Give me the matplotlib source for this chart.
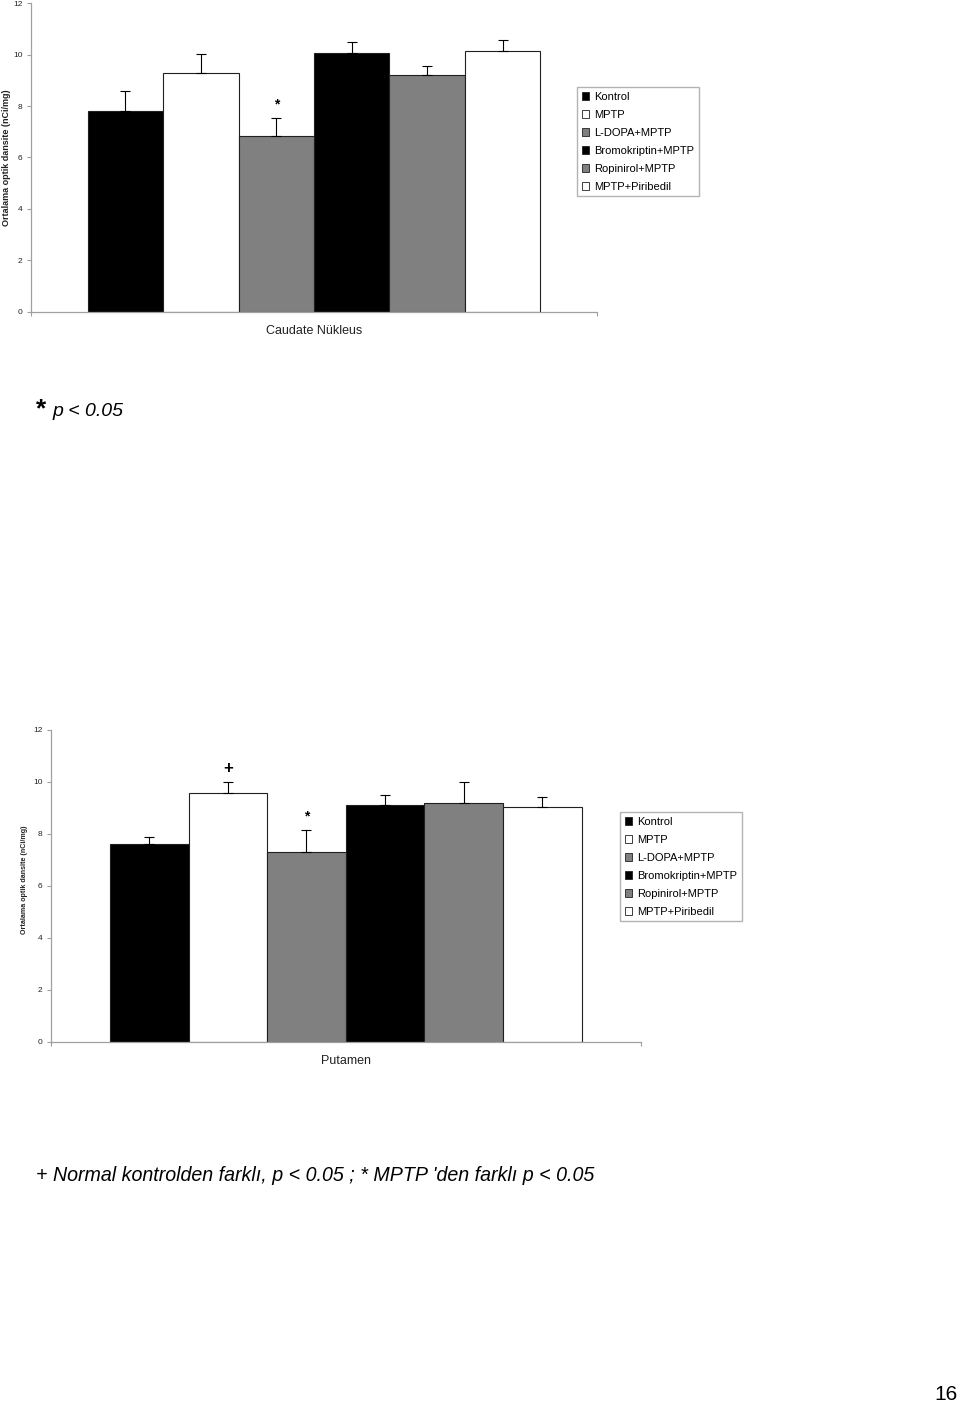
import matplotlib.pyplot as plt
from matplotlib.patches import Patch

plt.rcParams['font.family'] = ['Liberation Sans', 'DejaVu Sans']

groups = ['Kontrol', 'MPTP', 'L-DOPA+MPTP', 'Bromokriptin+MPTP', 'Ropinirol+MPTP', 'MPTP+Piribedil']
bar_colors = ['black', 'white', '#808080', 'black', '#808080', 'white']

caudate = [7.80, 9.29, 6.82, 10.08, 9.22, 10.16]
caudate_err = [0.78, 0.74, 0.70, 0.41, 0.35, 0.41]
caudate_marks = ['', '', '*', '', '', '']

putamen = [7.61, 9.59, 7.32, 9.11, 9.18, 9.02]
putamen_err = [0.26, 0.40, 0.82, 0.40, 0.81, 0.39]
putamen_marks = ['', '+', '*', '', '', '']

yticks = [0, 2, 4, 6, 8, 10, 12]
ylabel = 'Ortalama optik dansite (nCi/mg)'

W, H = 960, 1406
fig = plt.figure(figsize=(W / 100, H / 100), dpi=100)


def px_axes(left, right, top, bottom):
    return fig.add_axes([left / W, 1 - bottom / H, (right - left) / W, (bottom - top) / H])


def bar_chart(ax, vals, errs, marks, xlabel, mark_sizes):
    x = list(range(len(vals)))
    ax.bar(x, vals, width=1.0, color=bar_colors, edgecolor='#202020', linewidth=0.8, zorder=2)
    ax.errorbar(x, vals, yerr=[[0] * len(errs), errs], fmt='none', ecolor='black',
                elinewidth=0.8, capsize=3.5, capthick=0.8, zorder=3)
    for i in x:
        if marks[i]:
            ax.text(i, vals[i] + errs[i] + 0.25, marks[i], ha='center', va='bottom',
                    fontsize=mark_sizes[marks[i]], fontweight='bold')
    ax.set_ylim(0, 12)
    ax.set_xlim(-0.5 - 0.75, len(vals) - 0.5 + 0.75)
    ax.set_yticks(yticks)
    ax.set_xticks([-0.5 - 0.75, len(vals) - 0.5 + 0.75])
    ax.set_xticklabels([])
    ax.tick_params(axis='both', colors='#a0a0a0', length=3, width=0.8, labelsize=6,
                   labelcolor='#222222', pad=3)
    for s in ['top', 'right']:
        ax.spines[s].set_visible(False)
    for s in ['left', 'bottom']:
        ax.spines[s].set_color('#a0a0a0')
        ax.spines[s].set_linewidth(0.9)
    ax.set_xlabel(xlabel, fontsize=9, labelpad=3.5, color='#222222')


def legend(left, top):
    handles = [Patch(facecolor=c, edgecolor='#202020', linewidth=0.6) for c in bar_colors]
    fig.legend(handles, groups, loc='upper left', bbox_to_anchor=(left / W, 1 - top / H),
               bbox_transform=fig.transFigure, borderaxespad=0, fontsize=8,
               handlelength=0.7, handleheight=0.7, handletextpad=0.4, labelspacing=0.72,
               fancybox=False, frameon=True, edgecolor='#a0a0a0', borderpad=0.42)


# top chart
ax1 = px_axes(31, 597, 3.3, 311.5)
bar_chart(ax1, caudate, caudate_err, caudate_marks, 'Caudate Nükleus', {'*': 10})
fig.text(7 / W, 1 - 158 / H, ylabel, rotation=90, ha='center', va='center',
         fontsize=6.5, fontweight='bold', color='#222222')
legend(577, 87)

# bottom chart
ax2 = px_axes(51, 640.6, 730, 1041.7)
bar_chart(ax2, putamen, putamen_err, putamen_marks, 'Putamen', {'*': 10, '+': 12})
fig.text(25 / W, 1 - 880 / H, ylabel, rotation=90, ha='center', va='center',
         fontsize=5.1, fontweight='bold', color='#222222')
legend(620, 812)

# notes
fig.text(36 / W, 1 - 416 / H, '*', fontsize=19, fontweight='bold', va='baseline')
fig.text(52 / W, 1 - 416 / H, 'p < 0.05', fontsize=14, style='italic', va='baseline')
fig.text(36 / W, 1 - 1181 / H,
         "+ Normal kontrolden farklı, p < 0.05 ; * MPTP 'den farklı p < 0.05",
         fontsize=14.1, style='italic', va='baseline')
fig.text(958 / W, 1 - 1404 / H, '16', fontsize=15, ha='right', va='bottom')

fig.savefig('out.png', dpi=100)
